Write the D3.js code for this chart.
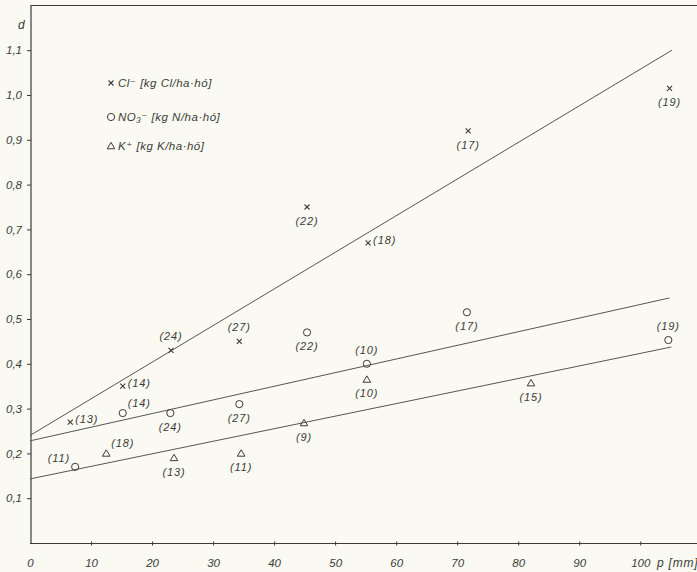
<!DOCTYPE html>
<html><head><meta charset="utf-8">
<script src="https://cdn.jsdelivr.net/npm/d3@7"></script>
<style>
html,body{margin:0;padding:0;background:#fbfaf2;}
svg{display:block;}
text{font-family:"Liberation Sans","DejaVu Sans",sans-serif;font-style:italic;fill:#3a3a3a;}
</style></head>
<body>
<svg id="c" width="697" height="572"></svg>
<script>
// ---- data ----
const yTicks = [0.1,0.2,0.3,0.4,0.5,0.6,0.7,0.8,0.9,1.0,1.1];
const xTicks = [0,10,20,30,40,50,60,70,80,90,100];

const clX = [6.6, 15.2, 23.1, 34.3, 45.4, 55.4, 71.8, 104.8];
const clY = [0.27, 0.35, 0.43, 0.45, 0.75, 0.67, 0.92, 1.015];
const clN = [13, 14, 24, 27, 22, 18, 17, 19];
const clPos = ["right","right","above","above","below","right","below","below"];

const no3X = [7.4, 15.2, 23.0, 34.3, 45.4, 55.2, 71.6, 104.6];
const no3Y = [0.17, 0.29, 0.29, 0.31, 0.47, 0.40, 0.515, 0.453];
const no3N = [11, 14, 24, 27, 22, 10, 17, 19];
const no3Pos = ["left","upright","below","below","below","above","below","above"];

const kX = [12.5, 23.6, 34.6, 44.9, 55.2, 82.1];
const kY = [0.20, 0.19, 0.20, 0.268, 0.365, 0.357];
const kN = [18, 13, 11, 9, 10, 15];
const kPos = ["upright","below","below","below","below","below"];

const clLineX = [0, 105.2], clLineY = [0.24, 1.10];
const no3LineX = [0, 104.8], no3LineY = [0.228, 0.547];
const kLineX = [0, 105.1], kLineY = [0.143, 0.4375];

const legendLabels = ["Cl⁻ [kg Cl/ha·hó]", "NO₃⁻ [kg N/ha·hó]", "K⁺ [kg K/ha·hó]"];

// ---- drawing ----
const svg = d3.select("#c");
const ink = "#3a3a3a";
const x = d3.scaleLinear().domain([0, 109.3]).range([30, 697]);
const y = d3.scaleLinear().domain([0, 1.2]).range([543, 5.4]);

// top border
svg.append("line").attr("x1", 31).attr("x2", 697).attr("y1", 5.5).attr("y2", 5.5)
  .attr("stroke", ink).attr("stroke-width", 1.2);

// y axis
const fmt = d => d3.format(".1f")(d).replace(".", ",");
const gy = svg.append("g").attr("transform", "translate(31,0)")
  .call(d3.axisLeft(y).tickValues(yTicks).tickSize(4).tickSizeOuter(0).tickPadding(5).tickFormat(fmt));
gy.select(".domain").remove();
gy.append("line").attr("x1", 0).attr("x2", 0).attr("y1", 5).attr("y2", 544).attr("stroke", ink).attr("stroke-width", 1.2);
gy.selectAll(".tick line").attr("stroke", ink);
gy.selectAll(".tick text").attr("font-size", 11.5).attr("fill", ink).style("font-family", '"Liberation Sans",sans-serif').style("font-style", "italic");

// x axis
const gx = svg.append("g").attr("transform", "translate(0,543.5)")
  .call(d3.axisBottom(x).tickValues(xTicks).tickSize(3).tickSizeOuter(0).tickPadding(12).tickFormat(d3.format("d")));
gx.select(".domain").remove();
gx.append("line").attr("x1", 30).attr("x2", 697).attr("stroke", ink).attr("stroke-width", 1.2);
gx.selectAll(".tick line").attr("stroke", ink).attr("y1", -2).attr("y2", 2);
gx.selectAll(".tick text").attr("font-size", 11.5).attr("fill", ink).style("font-family", '"Liberation Sans",sans-serif').style("font-style", "italic");
gx.selectAll(".tick").filter(d => d === 0).select("line").remove();

svg.append("text").attr("x", 657).attr("y", 567).attr("font-size", 12).attr("letter-spacing", 0.8).text("p [mm]");
svg.append("text").attr("x", 18).attr("y", 29).attr("font-size", 12).text("d");

// regression lines
const line = d3.line().x(d => x(d[0])).y(d => y(d[1]));
[[clLineX, clLineY], [no3LineX, no3LineY], [kLineX, kLineY]].forEach(([lx, ly]) => {
  svg.append("path").datum(lx.map((v, i) => [v, ly[i]])).attr("d", line)
    .attr("fill", "none").attr("stroke", "#555").attr("stroke-width", 1);
});

// markers
function marker(g, type, cx, cy) {
  if (type === "x") {
    g.append("path").attr("d", `M${cx-2.5},${cy-2.5}L${cx+2.5},${cy+2.5}M${cx+2.5},${cy-2.5}L${cx-2.5},${cy+2.5}`)
      .attr("stroke", ink).attr("stroke-width", 1.1).attr("fill", "none");
  } else if (type === "o") {
    g.append("circle").attr("cx", cx).attr("cy", cy).attr("r", 3.6)
      .attr("stroke", ink).attr("stroke-width", 1).attr("fill", "none");
  } else {
    g.append("path").attr("d", `M${cx},${cy-3.6}L${cx+3.8},${cy+2.8}L${cx-3.8},${cy+2.8}Z`)
      .attr("stroke", ink).attr("stroke-width", 1).attr("fill", "none");
  }
}
function label(g, pos, cx, cy, n) {
  const t = g.append("text").attr("font-size", 11).attr("letter-spacing", 0.9).text(`(${n})`);
  if (pos === "above") t.attr("x", cx).attr("y", cy - 10).attr("text-anchor", "middle");
  else if (pos === "below") t.attr("x", cx).attr("y", cy + 18).attr("text-anchor", "middle");
  else if (pos === "right") t.attr("x", cx + 5).attr("y", cy + 1).attr("text-anchor", "start");
  else if (pos === "upright") t.attr("x", cx + 5).attr("y", cy - 6).attr("text-anchor", "start");
  else if (pos === "left") t.attr("x", cx - 5).attr("y", cy - 5).attr("text-anchor", "end");
}
const series = [
  ["x", clX, clY, clN, clPos],
  ["o", no3X, no3Y, no3N, no3Pos],
  ["t", kX, kY, kN, kPos]
];
series.forEach(([type, xs, ys, ns, ps]) => {
  const g = svg.append("g");
  xs.forEach((v, i) => {
    marker(g, type, x(v), y(ys[i]));
    label(g, ps[i], x(v), y(ys[i]), ns[i]);
  });
});

// legend
const lg = svg.append("g");
const legendTypes = ["x", "o", "t"];
const legendY = [83, 117, 146];
legendLabels.forEach((s, i) => {
  marker(lg, legendTypes[i], 111, legendY[i]);
  lg.append("text").attr("x", 118).attr("y", legendY[i] + 4).attr("font-size", 11.5).attr("letter-spacing", 0.5).text(s);
});
</script>
</body></html>
